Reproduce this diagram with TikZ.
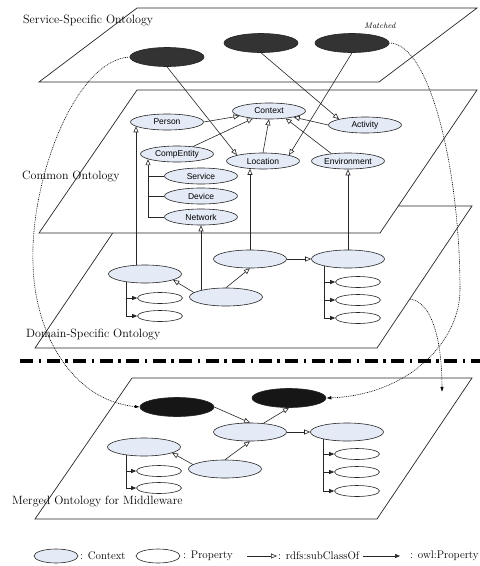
\documentclass[tikz,border=0pt]{standalone}
\usepackage{fontspec}
\newfontfamily\arialf{Liberation Sans}
\usetikzlibrary{arrows.meta,shapes.geometric,calc}
\definecolor{ctxblue}{HTML}{E4EBF7}
\definecolor{svcdark}{HTML}{333333}
\definecolor{mrgdark}{HTML}{161616}
\begin{document}
\begin{tikzpicture}[x=1pt,y=-1pt,
 plane/.style={draw=black!85, line width=0.7pt, fill=white},
 lbl/.style={anchor=west, inner sep=0, font=\fontsize{12}{14}\selectfont},
 cnode/.style={ellipse, draw=black!85, line width=0.6pt, fill=ctxblue, minimum width=73pt, minimum height=16pt, inner sep=0, font=\arialf\fontsize{8.5}{10}\selectfont},
 dnode/.style={ellipse, draw=black!85, line width=0.6pt, fill=ctxblue, minimum width=73pt, minimum height=18pt, inner sep=0},
 pnode/.style={ellipse, draw=black!85, line width=0.6pt, fill=white, minimum width=45pt, minimum height=11pt, inner sep=0},
 knode/.style={ellipse, draw=black!85, line width=0.6pt, fill=#1, minimum width=74pt, minimum height=19pt, inner sep=0},
 subarr/.style={draw=black!85, line width=0.6pt, -{Triangle[open, length=6pt, width=5pt]}},
 proparr/.style={draw=black!85, line width=0.6pt, -{Triangle[length=5pt, width=4pt]}},
 plainln/.style={draw=black!85, line width=0.6pt},
 dotc/.style={draw=black, line width=0.6pt, dash pattern=on 0.9pt off 0.9pt, -{Latex[length=5pt,width=3.5pt]}},
]
\useasboundingbox (0,0) rectangle (480,566);

% planes
\path[plane] (131,206) -- (472,206) -- (377,348) -- (35,348) -- cycle;
\path[plane] (137,90) -- (477,90) -- (380,233) -- (39,233) -- cycle;
\path[plane] (137,8) -- (477,8) -- (379,82) -- (39,82) -- cycle;
\path[plane] (132,378) -- (472,378) -- (377,519) -- (35,519) -- cycle;

% layer labels
\node[lbl] (tS) at (23,21) {Service-Specific Ontology};
\node[lbl] (tC) at (22,176) {Common Ontology};
\node[lbl] (tD) at (26,334) {Domain-Specific Ontology};
\node[lbl] (tM) at (12,501) {Merged Ontology for Middleware};
\node[inner sep=0, font=\itshape\fontsize{8}{9}\selectfont] (mt) at (380,26) {Matched};

% separator
\coordinate (sepL) at (20,361);
\coordinate (sepR) at (480,361);
\draw[line width=3.5pt, dash pattern=on 13pt off 5.5pt on 2.5pt off 5.5pt] (sepL) -- (sepR);

% service-specific nodes
\node[knode=svcdark] (e1) at (167,57) {};
\node[knode=svcdark] (e2) at (261,43) {};
\node[knode=svcdark] (e3) at (352,43) {};

% common ontology
\node[cnode] (ctx) at (269,111) {Context};
\node[cnode] (per) at (167,122) {Person};
\node[cnode] (act) at (365,125) {Activity};
\node[cnode] (cmp) at (177,154) {CompEntity};
\node[cnode] (loc) at (263,161) {Location};
\node[cnode] (env) at (348,161) {Environment};
\node[cnode] (srv) at (201,176) {Service};
\node[cnode] (dev) at (201,196) {Device};
\node[cnode] (net) at (201,217) {Network};

% domain-specific
\node[dnode] (d1) at (145,274) {};
\node[dnode] (d2) at (250,259) {};
\node[dnode] (d3) at (348,259) {};
\node[dnode] (d4) at (226,297) {};
\node[pnode] (p1) at (160,298) {};
\node[pnode] (p2) at (160,316) {};
\node[pnode] (p3) at (358,282) {};
\node[pnode] (p4) at (358,300) {};
\node[pnode] (p5) at (358,318) {};

% merged
\node[knode=mrgdark] (md1) at (177,407) {};
\node[knode=mrgdark] (md2) at (289,398) {};
\node[dnode] (m1) at (144,447) {};
\node[dnode] (m2) at (250,432) {};
\node[dnode] (m3) at (347,432) {};
\node[dnode] (m4) at (225,469) {};
\node[pnode] (q1) at (159,471) {};
\node[pnode] (q2) at (159,488) {};
\node[pnode] (q3) at (357,454) {};
\node[pnode] (q4) at (357,472) {};
\node[pnode] (q5) at (357,491) {};

% service -> common
\draw[subarr] (e1.south) -- (loc.north west);
\draw[subarr] (e2.south) -- (act.north west);
\draw[subarr] (e3.south) -- (loc.north east);

% common subclass links
\draw[subarr] (per.east) -- (ctx);
\draw[subarr] (cmp) -- (ctx);
\draw[subarr] (loc.north) -- (ctx.south);
\draw[subarr] (env.156) -- (ctx.-24);
\draw[subarr] (act.west) -- (ctx.-14);
\coordinate (cmpT) at ([xshift=-29pt,yshift=3.1pt]cmp.south);
\draw[subarr] (net.west) -| (cmpT);
\draw[plainln] (srv.west) -- (srv.west -| cmpT);
\draw[plainln] (dev.west) -- (dev.west -| cmpT);

% domain -> common
\draw[subarr] ([xshift=-9pt]d1.north) -- ([xshift=-31pt,yshift=4pt]per.south);
\draw[subarr] ([xshift=-25pt,yshift=-2.5pt]d4.north) -- (net.south);
\draw[subarr] (d2.north) -- ([xshift=-13pt,yshift=0.5pt]loc.south);
\draw[subarr] (d3.north) -- (env.south);

% domain internal
\draw[subarr] (d2.east) -- (d3.west);
\draw[subarr] (d4.172) -- (d1.348);
\draw[subarr] (d4.north) -- (d2.south);
\coordinate (d1T) at ([xshift=-19pt,yshift=1.3pt]d1.south);
\draw[proparr] (d1T) |- (p1.west);
\draw[proparr] (d1T) |- (p2.west);
\coordinate (d3T) at ([xshift=-24pt,yshift=2.2pt]d3.south);
\draw[proparr] (d3T) |- (p3.west);
\draw[proparr] (d3T) |- (p4.west);
\draw[proparr] (d3T) |- (p5.west);

% merged internal
\draw[subarr] (md1.east) -- (m2.north);
\draw[subarr] (m2.33) -- (md2.south);
\draw[subarr] (m4.172) -- (m1.348);
\draw[subarr] (m4.north) -- (m2.south);
\draw[subarr] (m2.east) -- (m3.west);
\coordinate (m1T) at ([xshift=-18pt,yshift=1.2pt]m1.south);
\draw[proparr] (m1T) |- (q1.west);
\draw[proparr] (m1T) |- (q2.west);
\coordinate (m3T) at ([xshift=-24pt,yshift=2.2pt]m3.south);
\draw[proparr] (m3T) |- (q3.west);
\draw[proparr] (m3T) |- (q4.west);
\draw[proparr] (m3T) |- (q5.west);

% dotted merge curves
\draw[dotc] (e1.west) .. controls (75,60) and (30,180) .. (33,263) .. controls (34,330) and (70,400) .. (md1.west);
\draw[dotc] (e3.east) .. controls (430,43) and (460,170) .. (460,290) .. controls (460,340) and (410,395) .. (md2.east);
\coordinate (s3) at (410,299);
\coordinate (t3) at (442,392);
\draw[dotc] (s3) .. controls (432,302) and (442,340) .. (t3);

% legend
\node[dnode, minimum width=44pt, minimum height=14pt] (lc) at (56,556) {};
\node[lbl, font=\fontsize{11}{13}\selectfont] (lct) at (80,556) {: Context};
\node[pnode, minimum width=44pt, minimum height=14pt] (lp) at (158,556) {};
\node[lbl, font=\fontsize{11}{13}\selectfont] (lpt) at (183,556) {: Property};
\coordinate (a1s) at (247,556);
\coordinate (a1e) at (277,556);
\draw[subarr] (a1s) -- (a1e);
\node[lbl, font=\fontsize{11}{13}\selectfont] (lst) at (278,556) {: rdfs:subClassOf};
\coordinate (a2s) at (363,556);
\coordinate (a2e) at (400,556);
\draw[proparr] (a2s) -- (a2e);
\node[lbl, font=\fontsize{11}{13}\selectfont] (lot) at (410,556) {: owl:Property};
\end{tikzpicture}
\end{document}
